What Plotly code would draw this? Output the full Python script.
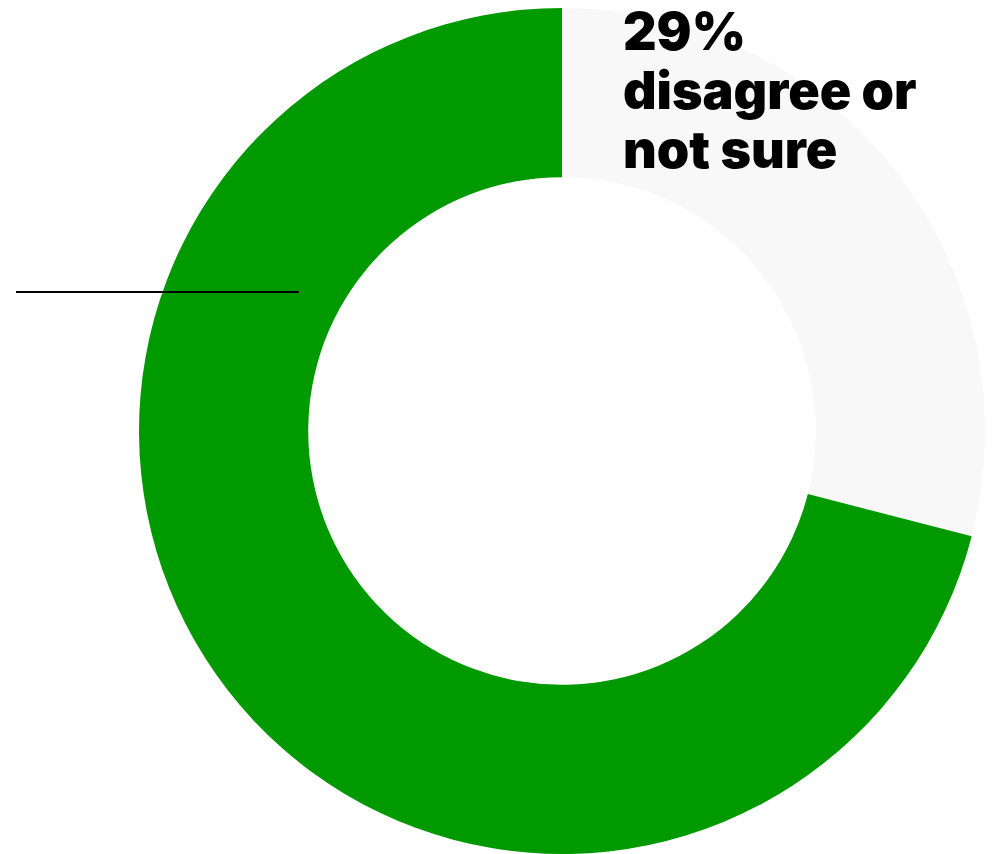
import plotly.graph_objects as go

# Survey split
labels = ["disagree or not sure", "agree"]
values = [29, 71]
colors = ["#f8f8f8", "#009900"]

W, H = 994, 854

fig = go.Figure(
    go.Pie(
        labels=labels,
        values=values,
        marker=dict(colors=colors, line=dict(width=0)),
        hole=0.6,
        sort=False,
        direction="clockwise",
        rotation=0,
        textinfo="none",
        hoverinfo="label+percent",
        domain=dict(x=[138 / W, 986 / W], y=[0, 1 - 8 / H]),
        showlegend=False,
    )
)

# Callout text for the smaller slice, one annotation per line
callout_lines = [f"{values[0]}%", "disagree or", "not sure"]
baselines = [53, 112, 171]
for txt, base in zip(callout_lines, baselines):
    fig.add_annotation(
        x=621 / W,
        y=1 - base / H,
        xref="paper",
        yref="paper",
        xanchor="left",
        yanchor="bottom",
        yshift=-12,
        text=txt,
        showarrow=False,
        font=dict(family="Inter", size=52, color="#000000", weight=900),
    )

# Leader line on the left
fig.add_shape(
    type="line",
    xref="paper",
    yref="paper",
    x0=16 / W,
    x1=299 / W,
    y0=1 - 292 / H,
    y1=1 - 292 / H,
    line=dict(color="#000000", width=2),
)

fig.update_layout(
    width=W,
    height=H,
    margin=dict(l=0, r=0, t=0, b=0),
    paper_bgcolor="#ffffff",
    plot_bgcolor="#ffffff",
)

fig.write_html("out.html")
